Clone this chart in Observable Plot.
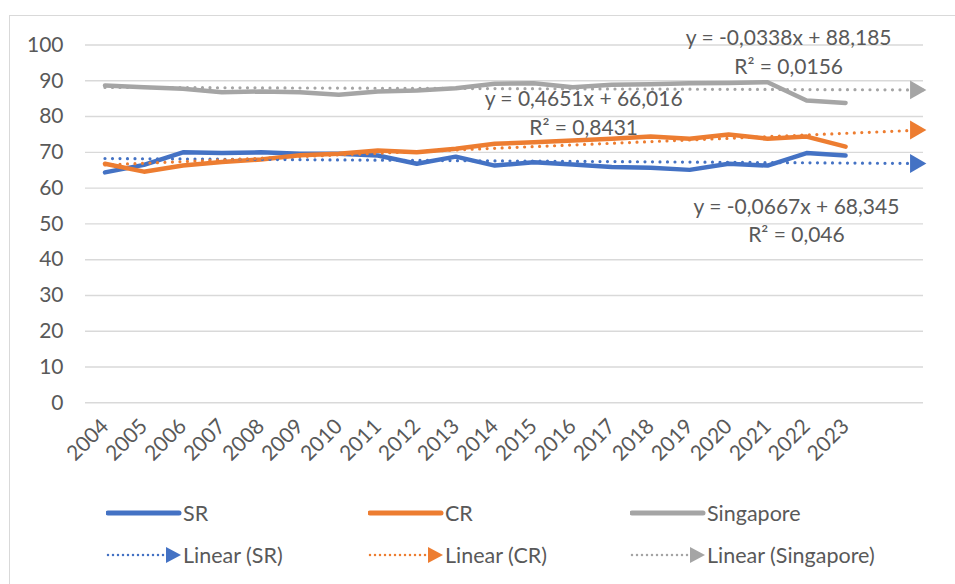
<!DOCTYPE html>
<html>
<head>
<meta charset="utf-8">
<script src="https://cdn.jsdelivr.net/npm/d3@7"></script>
<script src="https://cdn.jsdelivr.net/npm/@observablehq/plot@0.6"></script>
<style>
  html, body { margin: 0; padding: 0; background: #fff; }
  body { width: 955px; height: 584px; position: relative; overflow: hidden; font-family: Lato, "Noto Sans", sans-serif; color: #595959; }
  #frame { position: absolute; left: 9px; top: 15px; width: 1000px; height: 700px; border-left: 1.3px solid #D9D9D9; border-top: 1.3px solid #D9D9D9; }
  #chart { position: absolute; left: 0; top: 0; }
  .leg { position: absolute; height: 24px; display: flex; align-items: center; font-size: 21.5px; color: #595959; white-space: nowrap; }
  .leg svg { display: block; margin-right: 1px; }
</style>
</head>
<body>
<div id="frame"></div>
<div id="chart"></div>
<div id="legend"></div>
<script>
// ---- data ----
const years = [2004, 2005, 2006, 2007, 2008, 2009, 2010, 2011, 2012, 2013,
               2014, 2015, 2016, 2017, 2018, 2019, 2020, 2021, 2022, 2023];
const seriesNames = ["SR", "CR", "Singapore"];
const srValues = [64.4, 66.5, 70.0, 69.8, 70.0, 69.6, 69.6, 69.1, 66.8, 68.8,
                  66.3, 67.2, 66.6, 65.9, 65.7, 65.1, 66.8, 66.3, 69.8, 69.1];
const crValues = [66.8, 64.6, 66.3, 67.3, 68.0, 69.2, 69.6, 70.5, 70.0, 71.0,
                  72.4, 72.8, 73.3, 73.8, 74.4, 73.8, 75.0, 73.8, 74.4, 71.6];
const sgValues = [88.7, 88.2, 87.8, 86.8, 87.0, 86.8, 86.1, 87.0, 87.3, 87.9,
                  89.2, 89.3, 88.2, 88.9, 89.0, 89.3, 89.4, 89.6, 84.5, 83.8];
const colors = ["#4472C4", "#ED7D31", "#A5A5A5"];
// Excel linear trendlines (x = 1..20 for 2004..2023), forecast forward 2 periods
const trendSlopes = [-0.0667, 0.4651, -0.0338];
const trendIntercepts = [68.345, 66.016, 88.185];
const trendLabels = [
  "y = -0,0667x + 68,345\nR² = 0,046",
  "y = 0,4651x + 66,016\nR² = 0,8431",
  "y = -0,0338x + 88,185\nR² = 0,0156"
];
const labelX = [2021.74, 2016.28, 2021.54];
const labelY = [51.3, 81.4, 98.5];
const yTicks = [0, 10, 20, 30, 40, 50, 60, 70, 80, 90, 100];
const trendStartX = 1, trendEndX = 22;

// ---- tables ----
const allValues = [srValues, crValues, sgValues];
const rows = [];
seriesNames.forEach((s, i) => years.forEach((yr, j) => rows.push({series: s, year: yr, value: allValues[i][j]})));
const trendRows = [];
const trendEnds = [];
seriesNames.forEach((s, i) => {
  [trendStartX, trendEndX].forEach(k => {
    const r = {series: s, year: years[0] + k - 1, value: trendIntercepts[i] + trendSlopes[i] * k};
    trendRows.push(r);
    if (k === trendEndX) trendEnds.push(r);
  });
});
const labelRows = seriesNames.map((s, i) => ({series: s, x: labelX[i], y: labelY[i], text: trendLabels[i]}));

const colorScale = {domain: seriesNames, range: colors};

const plot = Plot.plot({
  width: 955,
  height: 490,
  marginLeft: 85,
  marginRight: 32,
  marginTop: 44.5,
  marginBottom: 87.7,
  style: {fontFamily: "Lato, 'Noto Sans', sans-serif", fontSize: "21px", color: "#595959", background: "transparent", overflow: "visible"},
  x: {domain: [2003.5, 2025], axis: null},
  y: {domain: [0, 100], axis: null},
  color: colorScale,
  marks: [
    Plot.ruleY(yTicks, {stroke: "#D9D9D9", strokeWidth: 1.4}),
    Plot.axisY({ticks: yTicks, tickSize: 0, tickPadding: 22, fontSize: 21, fill: "#595959"}),
    Plot.axisX({ticks: years, tickFormat: d => String(d), tickRotate: -45, tickSize: 0, tickPadding: 20, fontSize: 21, fill: "#595959"}),
    Plot.line(rows, {x: "year", y: "value", z: "series", stroke: "series", strokeWidth: 4.5, strokeLinejoin: "round", strokeLinecap: "round"}),
    Plot.line(trendRows, {x: "year", y: "value", z: "series", stroke: "series", strokeWidth: 3.2, strokeDasharray: "0,7.5", strokeLinecap: "round"}),
    Plot.dot(trendEnds, {x: "year", y: "value", fill: "series", symbol: "triangle", rotate: 90, r: 7, dx: -8, stroke: "none"}),
    Plot.text(labelRows, {x: "x", y: "y", text: "text", fill: "#595959", fontSize: 21, lineHeight: 1.35, textAnchor: "middle"})
  ]
});
document.getElementById("chart").appendChild(plot);

// ---- legend ----
const legend = document.getElementById("legend");
const legX = [106, 368, 630];
const legRowY = [513, 555];
seriesNames.forEach((s, i) => {
  const a = document.createElement("div");
  a.className = "leg";
  a.style.left = legX[i] + "px";
  a.style.top = (legRowY[0] - 12) + "px";
  a.innerHTML = `<svg width="76" height="24"><line x1="2" y1="12" x2="73" y2="12" stroke="${colors[i]}" stroke-width="5" stroke-linecap="round"/></svg><span>${s}</span>`;
  legend.appendChild(a);
  const b = document.createElement("div");
  b.className = "leg";
  b.style.left = legX[i] + "px";
  b.style.top = (legRowY[1] - 12) + "px";
  b.innerHTML = `<svg width="76" height="24"><line x1="2" y1="12" x2="58" y2="12" stroke="${colors[i]}" stroke-width="2.5" stroke-dasharray="0,5" stroke-linecap="round"/><path d="M60,4 L75,12 L60,20 Z" fill="${colors[i]}"/></svg><span>Linear (${s})</span>`;
  legend.appendChild(b);
});
</script>
</body>
</html>
